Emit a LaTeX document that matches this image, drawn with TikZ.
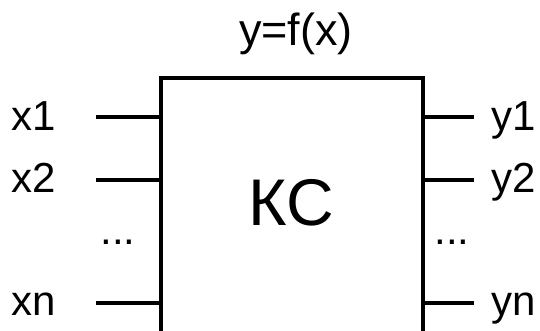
\documentclass[tikz,border=0pt]{standalone}
\usepackage{fontspec}
\setmainfont{Liberation Sans}
\begin{document}
\begin{tikzpicture}[x=1pt,y=-1pt,
  wire/.style={line width=3.6pt},
  lbl/.style={font=\fontsize{42}{42}\selectfont, inner sep=0pt, anchor=base west},
  dots/.style={font=\fontsize{42}{42}\selectfont, inner sep=0pt, anchor=base}]
\useasboundingbox (0,0) rectangle (540,331);
\clip (0,0) rectangle (540,331);
\node[draw, line width=4pt, minimum width=262pt, minimum height=300pt, anchor=north west, inner sep=0pt] (box) at (159,76.5) {};
\node[font=\fontsize{66}{66}\selectfont, inner sep=0pt, anchor=base] (kc) at (291,225) {КС};
\node[font=\fontsize{45}{45}\selectfont, inner sep=0pt, anchor=base] (title) at (296,46) {y=f(x)};
% inputs and outputs
\coordinate (xin1) at (96,117);
\coordinate (xin2) at (96,180);
\coordinate (xinn) at (96,303);
\coordinate (yout1) at (474,117);
\coordinate (yout2) at (474,180);
\coordinate (youtn) at (474,303);
\draw[wire] (xin1) -- (box.west |- xin1);
\draw[wire] (xin2) -- (box.west |- xin2);
\draw[wire] (xinn) -- (box.west |- xinn);
\draw[wire] (box.east |- yout1) -- (yout1);
\draw[wire] (box.east |- yout2) -- (yout2);
\draw[wire] (box.east |- youtn) -- (youtn);
\node[lbl] (lx1) at (11,131) {x1};
\node[lbl] (lx2) at (11,192) {x2};
\node[lbl] (lxn) at (11,315) {xn};
\node[lbl] (ly1) at (491,131) {y1};
\node[lbl] (ly2) at (491,192) {y2};
\node[lbl] (lyn) at (491,315) {yn};
\node[dots] (dl) at (118,244) {...};
\node[dots] (dr) at (452,244) {...};
\end{tikzpicture}
\end{document}
